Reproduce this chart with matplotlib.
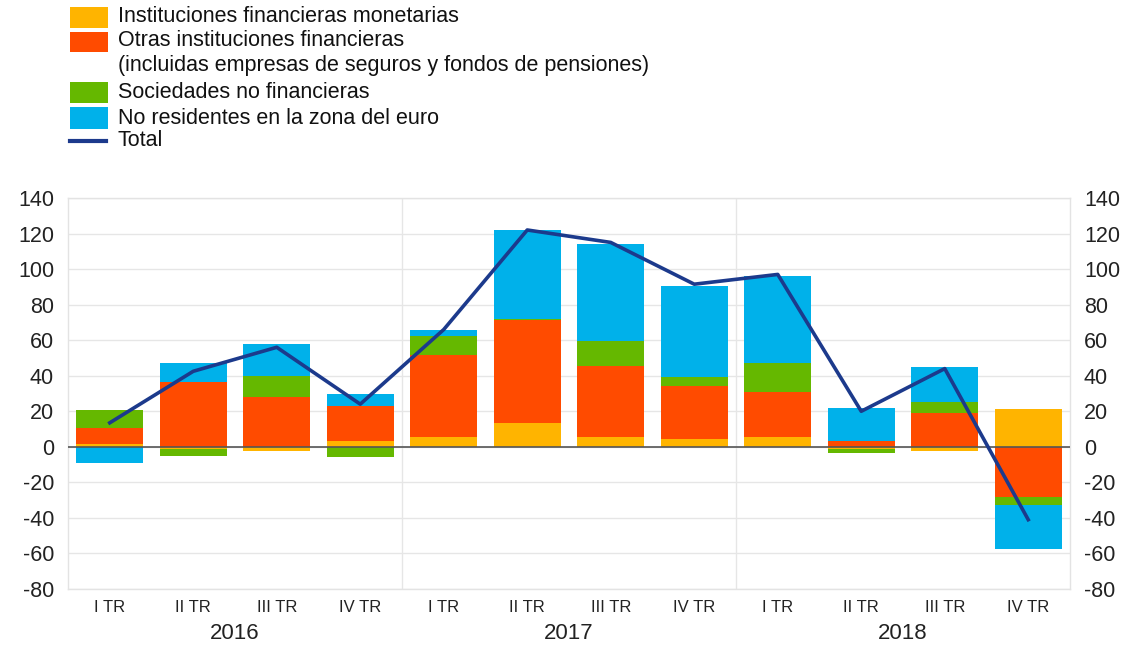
import matplotlib
matplotlib.use("Agg")
import matplotlib.pyplot as plt
from matplotlib.patches import Rectangle
from matplotlib.lines import Line2D
import numpy as np

plt.rcParams['font.family'] = ['Liberation Sans', 'DejaVu Sans']

quarters = ["I TR", "II TR", "III TR", "IV TR"] * 3
years = ["2016", "2017", "2018"]

mfi = [1.5, -1.5, -2.5, 3.5, 5.5, 13.5, 5.5, 4.5, 5.5, -1.0, -2.5, 21.0]
ofi = [9.0, 36.5, 28.0, 19.5, 46.0, 58.0, 40.0, 30.0, 25.5, 3.0, 19.0, -28.0]
nfc = [10.0, -3.5, 12.0, -6.0, 11.0, 0.5, 14.0, 5.0, 16.0, -2.5, 6.0, -5.0]
nonres = [-9.0, 10.5, 18.0, 7.0, 3.5, 50.0, 54.5, 51.0, 49.0, 19.0, 20.0, -24.5]
total = [13.5, 42.5, 56.0, 24.0, 66.0, 122.0, 115.0, 91.5, 97.0, 20.0, 44.0, -41.0]

labels = ["Instituciones financieras monetarias",
          "Otras instituciones financieras",
          "(incluidas empresas de seguros y fondos de pensiones)",
          "Sociedades no financieras",
          "No residentes en la zona del euro",
          "Total"]
colors = ["#FFB400", "#FF4B00", "#65B800", "#00B1EA"]
line_color = "#1c3a8c"

W, H = 1134, 646
fig = plt.figure(figsize=(W / 100, H / 100), dpi=100)
ax = fig.add_axes([68 / W, 1 - 589 / H, (1070 - 68) / W, (589 - 198) / H])

x = np.arange(len(quarters))
series = [mfi, ofi, nfc, nonres]
pos_base = np.zeros(len(x))
neg_base = np.zeros(len(x))
for vals, c in zip(series, colors):
    v = np.array(vals, dtype=float)
    bottoms = np.where(v >= 0, pos_base, neg_base)
    ax.bar(x, v, bottom=bottoms, width=0.8, color=c, linewidth=0, zorder=2)
    pos_base = pos_base + np.where(v >= 0, v, 0)
    neg_base = neg_base + np.where(v < 0, v, 0)

ax.plot(x, total, color=line_color, lw=2.6, zorder=4)
ax.axhline(0, color="#555555", lw=1.2, zorder=3)

ax.set_xlim(-0.5, len(x) - 0.5)
ax.set_ylim(-80, 140)
yt = np.arange(-80, 141, 20)
ax.set_yticks(yt)
ax.set_yticklabels([str(v) for v in yt])
ax.yaxis.grid(True, color="#e6e6e6", lw=1, zorder=0)
ax.set_axisbelow(True)
for xv in [3.5, 7.5]:
    ax.axvline(xv, color="#e6e6e6", lw=1, zorder=0)
for s in ax.spines.values():
    s.set_color("#e3e3e3")
    s.set_linewidth(1)
ax.tick_params(axis="y", length=0, labelsize=15.5, left=False, right=False,
               labelright=True, labelcolor="#222222", pad=10)
ax.tick_params(axis="x", length=0, labelsize=12, pad=8, labelcolor="#222222")
ax.set_xticks(x)
ax.set_xticklabels(quarters)

for i, yr in enumerate(years):
    ax.text(4 * i + 1.5, -0.113, yr, transform=ax.get_xaxis_transform(),
            ha="center", va="center", fontsize=16, color="#222222")

# legend
def fy(py):
    return 1 - py / H

patches = [(7, 28), (32, 52), (82, 103), (107, 129)]
for (y0, y1), c in zip(patches, colors):
    fig.add_artist(Rectangle((70 / W, fy(y1)), 38 / W, (y1 - y0) / H,
                             transform=fig.transFigure, color=c, lw=0))
fig.add_artist(Line2D([70 / W, 106 / W], [fy(141), fy(141)], transform=fig.transFigure,
                      color=line_color, lw=3))
text_rows = [16, 41, 66, 93, 119, 141]
for py, t in zip(text_rows, labels):
    fig.text(118 / W, fy(py), t, ha="left", va="center", fontsize=15.5, color="#111111")

fig.savefig("out.png", dpi=100)
